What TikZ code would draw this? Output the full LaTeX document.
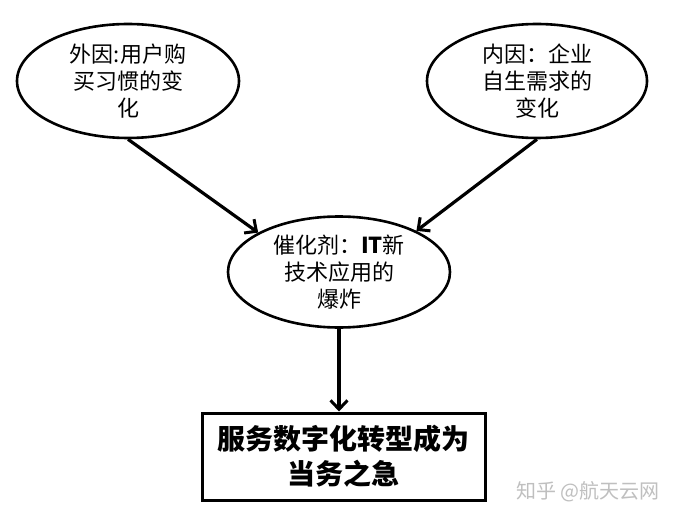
\documentclass[tikz,border=0pt]{standalone}
\usepackage{fontspec}
\newfontfamily\cjk{Noto Sans CJK SC}
\usetikzlibrary{arrows.meta,shapes.geometric}
\begin{document}
\begin{tikzpicture}[x=1pt,y=-1pt,
  oval/.style={ellipse,draw=black,line width=2.6pt,inner sep=0pt,align=center,
    font=\cjk\fontsize{22}{27}\selectfont},
  goalbox/.style={rectangle,draw=black,line width=3pt,inner sep=0pt,align=center,
    minimum width=283pt,minimum height=87pt,font=\cjk\bfseries\fontsize{28}{35}\selectfont},
  conn/.style={line width=3.2pt,-{Straight Barb[length=9pt,width=17pt,line width=3pt]}}
]
\useasboundingbox (0,0) rectangle (679,521);
\fill[white] (0,0) rectangle (679,521);
\node[oval,minimum width=222pt,minimum height=114pt] (ext) at (128,81) {外因:用户购\\买习惯的变\\化};
\node[oval,minimum width=220pt,minimum height=114pt] (int) at (537,81) {内因：企业\\自生需求的\\变化};
\node[oval,minimum width=222pt,minimum height=111pt] (cat) at (339,272) {催化剂：{\bfseries IT}新\\技术应用的\\爆炸};
\node[goalbox] (goal) at (343.5,456.5) {服务数字化转型成为\\当务之急};
\node[text=black!25,font=\cjk\fontsize{20}{24}\selectfont,anchor=center] (wm) at (588,492) {知乎 @航天云网};
\draw[conn] (ext.south) -- (cat.154);
\draw[conn] (int.south) -- (cat.28);
\draw[conn] (cat.south) -- (cat.south |- goal.north);
\end{tikzpicture}
\end{document}
